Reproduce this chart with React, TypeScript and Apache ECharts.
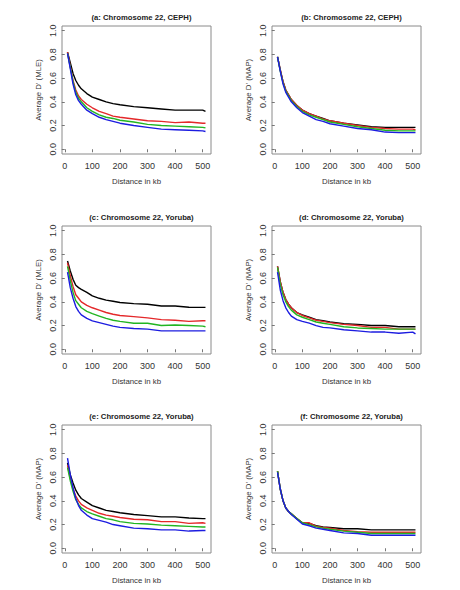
import React, { useEffect, useRef } from "react";
import * as echarts from "echarts";

// Distance (kb) at which each curve value is read
const distances = [10, 20, 30, 40, 50, 60, 80, 100, 125, 150, 175, 200, 250, 300, 350, 400, 450, 500, 510];

const panelTitles = [
  "(a: Chromosome 22, CEPH)",
  "(b: Chromosome 22, CEPH)",
  "(c: Chromosome 22, Yoruba)",
  "(d: Chromosome 22, Yoruba)",
  "(e: Chromosome 22, Yoruba)",
  "(f: Chromosome 22, Yoruba)",
];
const yTitles = ["Average D' (MLE)", "Average D' (MAP)", "Average D' (MLE)", "Average D' (MAP)", "Average D' (MAP)", "Average D' (MAP)"];
const xTitle = "Distance in kb";
const xTicks = [0, 100, 200, 300, 400, 500];
const yTicks = [0, 0.2, 0.4, 0.6, 0.8, 1.0];

// Panel a
const aBlack = [0.82, 0.73, 0.64, 0.58, 0.54, 0.51, 0.47, 0.44, 0.42, 0.40, 0.385, 0.375, 0.36, 0.35, 0.34, 0.33, 0.33, 0.33, 0.32];
const aRed = [0.82, 0.70, 0.58, 0.50, 0.45, 0.42, 0.38, 0.35, 0.32, 0.30, 0.28, 0.27, 0.255, 0.24, 0.235, 0.225, 0.23, 0.22, 0.22];
const aGreen = [0.81, 0.69, 0.57, 0.48, 0.43, 0.40, 0.35, 0.32, 0.29, 0.27, 0.26, 0.245, 0.23, 0.21, 0.20, 0.195, 0.19, 0.185, 0.18];
const aBlue = [0.81, 0.68, 0.55, 0.46, 0.41, 0.38, 0.33, 0.30, 0.27, 0.25, 0.235, 0.22, 0.20, 0.185, 0.17, 0.165, 0.16, 0.155, 0.15];
// Panel b
const bBlack = [0.78, 0.67, 0.57, 0.50, 0.46, 0.42, 0.37, 0.33, 0.30, 0.28, 0.26, 0.24, 0.22, 0.205, 0.19, 0.185, 0.185, 0.185, 0.185];
const bRed = [0.78, 0.67, 0.57, 0.50, 0.46, 0.42, 0.37, 0.33, 0.30, 0.28, 0.255, 0.24, 0.22, 0.20, 0.185, 0.175, 0.17, 0.17, 0.165];
const bGreen = [0.78, 0.66, 0.56, 0.49, 0.45, 0.41, 0.36, 0.32, 0.29, 0.27, 0.25, 0.23, 0.21, 0.19, 0.175, 0.16, 0.155, 0.155, 0.155];
const bBlue = [0.78, 0.66, 0.55, 0.48, 0.44, 0.40, 0.35, 0.31, 0.28, 0.25, 0.235, 0.215, 0.195, 0.175, 0.165, 0.145, 0.14, 0.14, 0.14];
// Panel c
const cBlack = [0.745, 0.66, 0.59, 0.54, 0.52, 0.505, 0.48, 0.45, 0.43, 0.415, 0.405, 0.395, 0.385, 0.38, 0.365, 0.365, 0.355, 0.353, 0.353];
const cRed = [0.73, 0.62, 0.53, 0.46, 0.43, 0.40, 0.37, 0.35, 0.33, 0.31, 0.295, 0.285, 0.275, 0.265, 0.25, 0.245, 0.235, 0.24, 0.24];
const cGreen = [0.70, 0.58, 0.48, 0.41, 0.38, 0.35, 0.32, 0.30, 0.28, 0.26, 0.245, 0.235, 0.22, 0.22, 0.20, 0.205, 0.20, 0.195, 0.19];
const cBlue = [0.65, 0.52, 0.43, 0.36, 0.32, 0.29, 0.26, 0.24, 0.225, 0.21, 0.195, 0.185, 0.175, 0.17, 0.155, 0.155, 0.155, 0.155, 0.155];
// Panel d
const dBlack = [0.70, 0.57, 0.48, 0.42, 0.38, 0.35, 0.31, 0.29, 0.27, 0.25, 0.24, 0.23, 0.215, 0.21, 0.20, 0.20, 0.19, 0.19, 0.19];
const dRed = [0.70, 0.57, 0.48, 0.42, 0.38, 0.35, 0.31, 0.285, 0.265, 0.245, 0.235, 0.225, 0.21, 0.20, 0.185, 0.185, 0.17, 0.17, 0.17];
const dGreen = [0.69, 0.55, 0.46, 0.40, 0.36, 0.33, 0.29, 0.27, 0.25, 0.23, 0.22, 0.21, 0.19, 0.18, 0.175, 0.17, 0.17, 0.17, 0.17];
const dBlue = [0.65, 0.50, 0.41, 0.35, 0.31, 0.28, 0.25, 0.235, 0.22, 0.20, 0.185, 0.18, 0.165, 0.155, 0.145, 0.145, 0.135, 0.145, 0.13];
// Panel e
const eBlack = [0.72, 0.62, 0.55, 0.49, 0.45, 0.42, 0.39, 0.36, 0.34, 0.32, 0.31, 0.30, 0.285, 0.275, 0.265, 0.265, 0.255, 0.25, 0.25];
const eRed = [0.70, 0.59, 0.50, 0.44, 0.40, 0.37, 0.34, 0.32, 0.295, 0.28, 0.27, 0.26, 0.245, 0.24, 0.225, 0.225, 0.21, 0.215, 0.21];
const eGreen = [0.68, 0.57, 0.48, 0.41, 0.37, 0.34, 0.31, 0.29, 0.27, 0.25, 0.24, 0.225, 0.21, 0.205, 0.195, 0.19, 0.185, 0.18, 0.18];
const eBlue = [0.76, 0.62, 0.51, 0.42, 0.36, 0.32, 0.28, 0.25, 0.235, 0.22, 0.20, 0.19, 0.17, 0.165, 0.155, 0.155, 0.145, 0.15, 0.15];
// Panel f
const fBlack = [0.65, 0.50, 0.40, 0.34, 0.31, 0.29, 0.25, 0.215, 0.21, 0.19, 0.18, 0.175, 0.165, 0.165, 0.155, 0.155, 0.155, 0.155, 0.155];
const fRed = [0.65, 0.50, 0.40, 0.34, 0.31, 0.29, 0.25, 0.215, 0.215, 0.185, 0.175, 0.17, 0.15, 0.14, 0.135, 0.135, 0.135, 0.135, 0.135];
const fGreen = [0.65, 0.50, 0.40, 0.34, 0.31, 0.29, 0.25, 0.215, 0.20, 0.18, 0.17, 0.16, 0.145, 0.135, 0.125, 0.125, 0.125, 0.125, 0.125];
const fBlue = [0.64, 0.50, 0.40, 0.34, 0.31, 0.285, 0.245, 0.205, 0.19, 0.17, 0.16, 0.15, 0.13, 0.125, 0.11, 0.11, 0.11, 0.11, 0.11];

const panelSeries = [
  [aBlack, aRed, aGreen, aBlue],
  [bBlack, bRed, bGreen, bBlue],
  [cBlack, cRed, cGreen, cBlue],
  [dBlack, dRed, dGreen, dBlue],
  [eBlack, eRed, eGreen, eBlue],
  [fBlack, fRed, fGreen, fBlue],
];
const seriesNames = ["black", "red", "green", "blue"];
const seriesColors = ["#000000", "#e4282a", "#22b522", "#1c1ce0"];

const FONT = "'Liberation Sans', Arial, sans-serif";

export default function App() {
  const ref = useRef<HTMLDivElement>(null);
  useEffect(() => {
    if (!ref.current) return;
    const chart = echarts.init(ref.current, null, { renderer: "svg" });
    const colLeft = [62, 272];
    const rowTop = [26, 226, 425];
    const W = 149;
    const H = 128;
    const grids: any[] = [];
    const xAxes: any[] = [];
    const yAxes: any[] = [];
    const titles: any[] = [];
    const series: any[] = [];
    for (let p = 0; p < 6; p++) {
      const col = p % 2;
      const row = Math.floor(p / 2);
      const left = colLeft[col];
      const top = rowTop[row];
      grids.push({
        left,
        top,
        width: W,
        height: H,
        show: true,
        borderColor: "#8a8a8a",
        borderWidth: 1,
        backgroundColor: "transparent",
      });
      titles.push({
        text: panelTitles[p],
        left: left + W / 2,
        top: top - 18,
        textAlign: "center",
        textStyle: { fontFamily: FONT, fontSize: 7.7, fontWeight: "bold", color: "#222" },
      });
      xAxes.push({
        gridIndex: p,
        type: "value",
        min: -10,
        max: 530,
        axisLine: { show: false },
        splitLine: { show: false },
        axisTick: { show: true, length: 3, customValues: xTicks, lineStyle: { color: "#777" } },
        axisLabel: {
          customValues: xTicks,
          fontFamily: FONT,
          fontSize: 9,
          color: "#333",
          margin: 7,
        },
        name: xTitle,
        nameLocation: "middle",
        nameGap: 23,
        nameTextStyle: { fontFamily: FONT, fontSize: 7.8, color: "#333" },
      });
      yAxes.push({
        gridIndex: p,
        type: "value",
        min: -0.04,
        max: 1.04,
        axisLine: { show: false },
        splitLine: { show: false },
        axisTick: { show: true, length: 3, customValues: yTicks, lineStyle: { color: "#777" } },
        axisLabel: {
          customValues: yTicks,
          rotate: 90,
          fontFamily: FONT,
          fontSize: 9,
          color: "#333",
          margin: 5,
          formatter: (v: number) => v.toFixed(1),
        },
        name: yTitles[p],
        nameLocation: "middle",
        nameGap: 20,
        nameTextStyle: { fontFamily: FONT, fontSize: 7.8, color: "#333" },
      });
      panelSeries[p].forEach((vals, i) => {
        series.push({
          type: "line",
          name: seriesNames[i],
          xAxisIndex: p,
          yAxisIndex: p,
          data: distances.map((d, k) => [d, vals[k]]),
          showSymbol: false,
          symbol: "none",
          lineStyle: { color: seriesColors[i], width: 1.4 },
          itemStyle: { color: seriesColors[i] },
          z: 2 + i,
        });
      });
    }
    chart.setOption({
      animation: false,
      backgroundColor: "#ffffff",
      title: titles,
      grid: grids,
      xAxis: xAxes,
      yAxis: yAxes,
      series,
    });
    return () => chart.dispose();
  }, []);
  return (
    <div
      ref={ref}
      style={{ position: "absolute", left: 0, top: 0, width: 460, height: 590, background: "#fff" }}
    />
  );
}
